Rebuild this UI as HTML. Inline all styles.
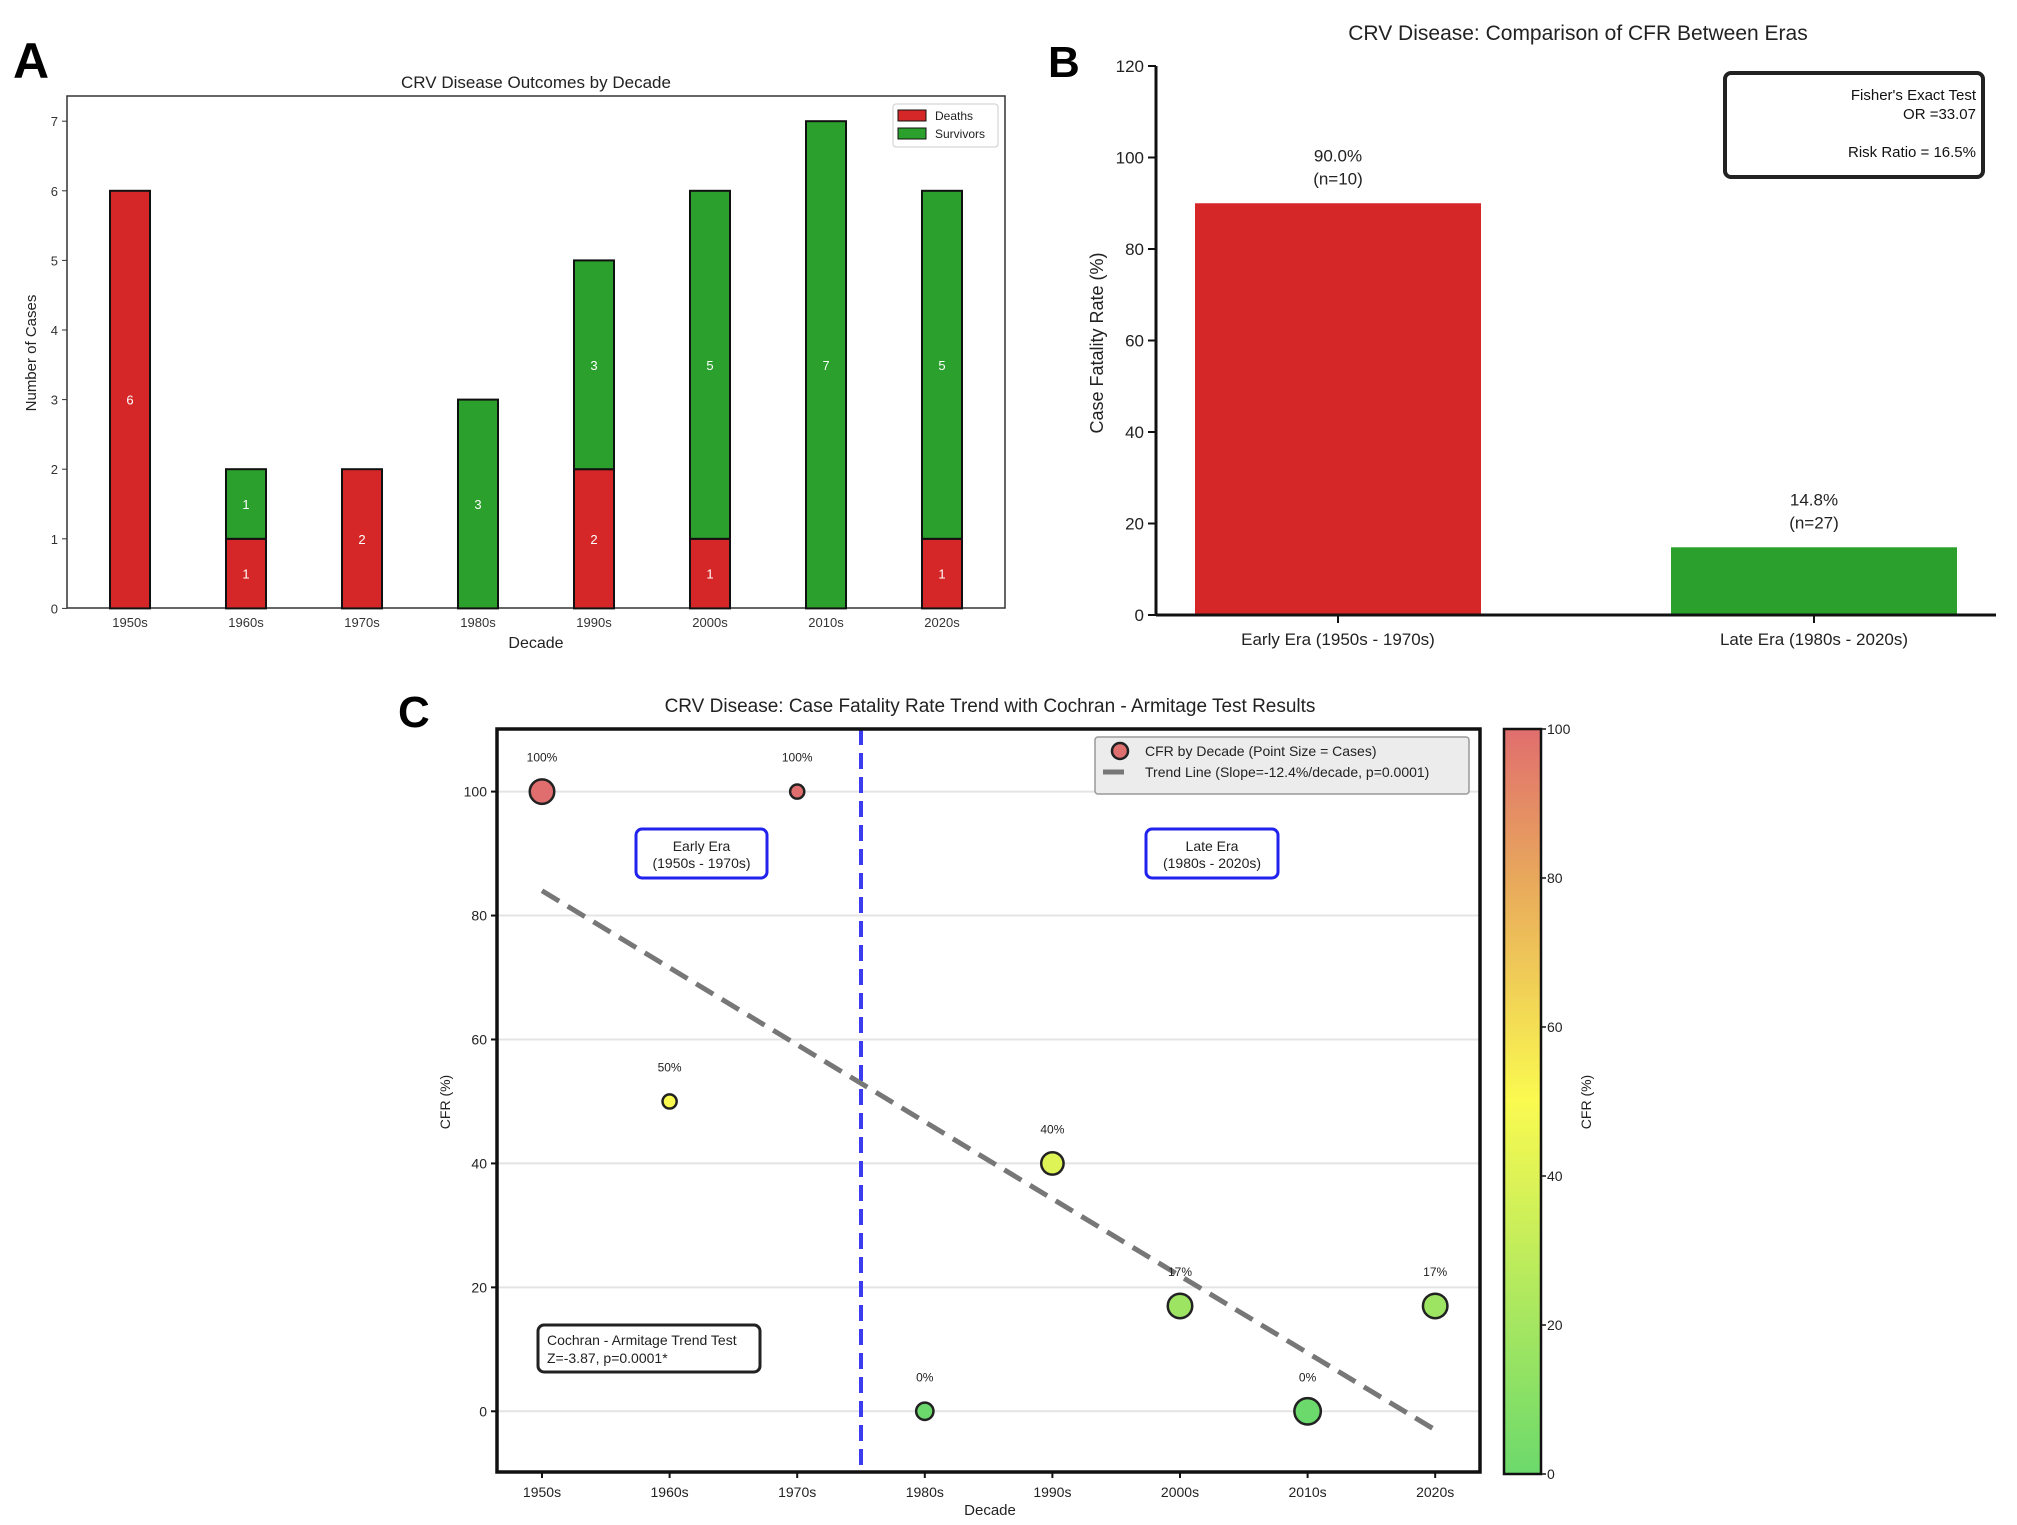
<!DOCTYPE html>
<html><head><meta charset="utf-8"><style>
html,body{margin:0;padding:0;background:#fff;}
svg{display:block;font-family:"Liberation Sans",sans-serif;}
</style></head><body>
<svg id="fig" width="2017" height="1525" viewBox="0 0 2017 1525" xmlns="http://www.w3.org/2000/svg">
<g id="pa"></g>
<g id="pb"></g>
<g id="pc"></g>
</svg>
<script>
// Panel A data
const decades = ["1950s","1960s","1970s","1980s","1990s","2000s","2010s","2020s"];
const deaths = [6,1,2,0,2,1,0,1];
const survivors = [0,1,0,3,3,5,7,5];
const aTicks = [0,1,2,3,4,5,6,7];
// Panel B data
const eras = ["Early Era (1950s - 1970s)","Late Era (1980s - 2020s)"];
const eraCFR = [90.0,14.8];
const eraN = [10,27];
const bTicks = [0,20,40,60,80,100,120];
// Panel C data
const cfr = [100,50,100,0,40,17,0,17];
const cases = [6,2,2,3,5,6,7,6];
const trendStart = 84;
const trendEnd = -3;
const cTicks = [0,20,40,60,80,100];
const cbTicks = [0,20,40,60,80,100];

const NS="http://www.w3.org/2000/svg";
function mk(parent,tag,attrs,text){const e=document.createElementNS(NS,tag);for(const k in attrs)e.setAttribute(k,attrs[k]);if(text!==undefined)e.textContent=text;parent.appendChild(e);return e;}

// ---------- Panel A ----------
(function(){
const g=document.getElementById('pa');
const L=67,R=1005,T=96,B=608;
const ya=v=>608.4-v*69.6;
const xa=i=>130+i*116;
let t=mk(g,'text',{x:13,y:78,'font-size':50,'font-weight':'bold'},'A');


t=mk(g,'text',{x:536,y:88,'font-size':17,'text-anchor':'middle',fill:'#222'},'CRV Disease Outcomes by Decade');


let r=mk(g,'rect',{x:L,y:T,width:R-L,height:B-T,fill:'none',stroke:'#333','stroke-width':1.5});


aTicks.forEach(v=>{
  const l=mk(g,'line',{x1:L-5,x2:L,y1:ya(v),y2:ya(v),stroke:'#333'});
  
  
  const tt=mk(g,'text',{x:L-9,y:ya(v)+5,'font-size':13,'text-anchor':'end',fill:'#333'},String(v));
  
  
});
decades.forEach((d,i)=>{
  const x=xa(i),w=40;
  if(deaths[i]>0){
    const b=mk(g,'rect',{x:x-w/2,y:ya(deaths[i]),width:w,height:ya(0)-ya(deaths[i]),fill:'#d62728',stroke:'#111','stroke-width':2});
    
    
    const lb=mk(g,'text',{x:x,y:ya(deaths[i]/2)+5,'font-size':13,'text-anchor':'middle',fill:'#fff'},String(deaths[i]));
    
    
  }
  if(survivors[i]>0){
    const b=mk(g,'rect',{x:x-w/2,y:ya(deaths[i]+survivors[i]),width:w,height:ya(deaths[i])-ya(deaths[i]+survivors[i]),fill:'#2ca02c',stroke:'#111','stroke-width':2});
    
    
    const lb=mk(g,'text',{x:x,y:ya(deaths[i]+survivors[i]/2)+5,'font-size':13,'text-anchor':'middle',fill:'#fff'},String(survivors[i]));
    
    
  }
  const tt=mk(g,'text',{x:x,y:627,'font-size':13,'text-anchor':'middle',fill:'#333'},d);
  
  
});
t=mk(g,'text',{x:536,y:648,'font-size':16,'text-anchor':'middle',fill:'#222'},'Decade');


t=mk(g,'text',{x:0,y:0,'font-size':15,'text-anchor':'middle',fill:'#222',transform:'translate(36,353) rotate(-90)'},'Number of Cases');


const lg=mk(g,'g',{});


mk(lg,'rect',{x:893,y:104,width:105,height:43,fill:'#fff',stroke:'#ccc',rx:3});
let e=mk(lg,'rect',{x:898,y:110,width:28,height:11,fill:'#d62728',stroke:'#111'});


mk(lg,'text',{x:935,y:120,'font-size':12,fill:'#222'},'Deaths');
e=mk(lg,'rect',{x:898,y:128,width:28,height:11,fill:'#2ca02c',stroke:'#111'});


mk(lg,'text',{x:935,y:138,'font-size':12,fill:'#222'},'Survivors');
})();

// ---------- Panel B ----------
(function(){
const g=document.getElementById('pb');
const L=1156,B=615;
const yb=v=>615-v*(549/120);
const xc=[1338,1814];
let t=mk(g,'text',{x:1048,y:77,'font-size':44,'font-weight':'bold'},'B');


t=mk(g,'text',{x:1578,y:40,'font-size':21,'text-anchor':'middle',fill:'#222'},'CRV Disease: Comparison of CFR Between Eras');


eras.forEach((e,i)=>{
  const b=mk(g,'rect',{x:xc[i]-143,y:yb(eraCFR[i]),width:286,height:yb(0)-yb(eraCFR[i]),fill:i===0?'#d62728':'#2ca02c'});
  
  
  let a=mk(g,'text',{x:xc[i],y:yb(eraCFR[i])-42,'font-size':17,'text-anchor':'middle',fill:'#222'},eraCFR[i].toFixed(1)+'%');
  
  
  a=mk(g,'text',{x:xc[i],y:yb(eraCFR[i])-19,'font-size':17,'text-anchor':'middle',fill:'#222'},'(n='+eraN[i]+')');
  
  
  const tk=mk(g,'line',{x1:xc[i],x2:xc[i],y1:B,y2:B+8,stroke:'#111','stroke-width':2});
  
  
  a=mk(g,'text',{x:xc[i],y:645,'font-size':17,'text-anchor':'middle',fill:'#222'},e);
  
  
});
let ax=mk(g,'line',{x1:L,x2:L,y1:yb(120),y2:B,stroke:'#111','stroke-width':3});


ax=mk(g,'line',{x1:L,x2:1996,y1:B,y2:B,stroke:'#111','stroke-width':3});


bTicks.forEach(v=>{
  const l=mk(g,'line',{x1:L-8,x2:L,y1:yb(v),y2:yb(v),stroke:'#111','stroke-width':2});
  
  
  const tt=mk(g,'text',{x:L-12,y:yb(v)+6,'font-size':17,'text-anchor':'end',fill:'#222'},String(v));
  
  
});
t=mk(g,'text',{x:0,y:0,'font-size':18,'text-anchor':'middle',fill:'#222',transform:'translate(1103,343) rotate(-90)'},'Case Fatality Rate (%)');


const bx=mk(g,'g',{});


mk(bx,'rect',{x:1725,y:73,width:258,height:104,fill:'#fff',stroke:'#222','stroke-width':4,rx:6});
mk(bx,'text',{x:1976,y:100,'font-size':15,'text-anchor':'end',fill:'#111'},"Fisher's Exact Test");
mk(bx,'text',{x:1976,y:119,'font-size':15,'text-anchor':'end',fill:'#111'},'OR =33.07');
mk(bx,'text',{x:1976,y:157,'font-size':15,'text-anchor':'end',fill:'#111'},'Risk Ratio = 16.5%');
})();

// ---------- Panel C ----------
(function(){
const g=document.getElementById('pc');
const L=497,R=1480,T=729,B=1472;
const yc=v=>1411.3-v*6.197;
const xc=i=>542+i*127.6;
function col(v){
  const stops=[[0,[108,217,108]],[50,[250,250,80]],[80,[232,168,92]],[100,[224,110,110]]];
  for(let k=1;k<stops.length;k++){if(v<=stops[k][0]){const a=stops[k-1],b=stops[k];const f=(v-a[0])/(b[0]-a[0]);return 'rgb('+a[1].map((c,j)=>Math.round(c+(b[1][j]-c)*f)).join(',')+')';}}
  return 'rgb(224,110,110)';
}
let t=mk(g,'text',{x:398,y:727,'font-size':44,'font-weight':'bold'},'C');


t=mk(g,'text',{x:990,y:712,'font-size':19,'text-anchor':'middle',fill:'#222'},'CRV Disease: Case Fatality Rate Trend with Cochran - Armitage Test Results');


cTicks.forEach(v=>{
  const gl=mk(g,'line',{x1:L,x2:R,y1:yc(v),y2:yc(v),stroke:'#e4e4e4','stroke-width':2});
  
  
  const l=mk(g,'line',{x1:L-6,x2:L,y1:yc(v),y2:yc(v),stroke:'#111','stroke-width':2});
  
  
  const tt=mk(g,'text',{x:L-10,y:yc(v)+5,'font-size':14,'text-anchor':'end',fill:'#222'},String(v));
  
  
});
let vl=mk(g,'line',{x1:(xc(2)+xc(3))/2,x2:(xc(2)+xc(3))/2,y1:T,y2:B,stroke:'#3b3bf0','stroke-width':4,'stroke-dasharray':'16,8'});


let tl=mk(g,'line',{x1:xc(0),y1:yc(trendStart),x2:xc(7),y2:yc(trendEnd),stroke:'#777','stroke-width':5,'stroke-dasharray':'20,10'});


decades.forEach((d,i)=>{
  const c=mk(g,'circle',{cx:xc(i),cy:yc(cfr[i]),r:5*Math.sqrt(cases[i]),fill:col(cfr[i]),stroke:'#222','stroke-width':2.5});
  
  
  const lb=mk(g,'text',{x:xc(i),y:yc(cfr[i])-30,'font-size':12,'text-anchor':'middle',fill:'#222'},cfr[i]+'%');
  
  
  const tk=mk(g,'line',{x1:xc(i),x2:xc(i),y1:B,y2:B+6,stroke:'#111','stroke-width':2});
  
  
  const tt=mk(g,'text',{x:xc(i),y:1497,'font-size':14,'text-anchor':'middle',fill:'#222'},d);
  
  
});
let fr=mk(g,'rect',{x:L,y:T,width:R-L,height:B-T,fill:'none',stroke:'#111','stroke-width':3.5});


t=mk(g,'text',{x:990,y:1515,'font-size':15,'text-anchor':'middle',fill:'#222'},'Decade');


t=mk(g,'text',{x:0,y:0,'font-size':14,'text-anchor':'middle',fill:'#222',transform:'translate(450,1102) rotate(-90)'},'CFR (%)');


// era boxes
[[636,767,'Early Era','(1950s - 1970s)','early-era-box'],[1146,1278,'Late Era','(1980s - 2020s)','late-era-box']].forEach(a=>{
  const bg=mk(g,'g',{});
  
  
  mk(bg,'rect',{x:a[0],y:829,width:a[1]-a[0],height:49,fill:'#fff',stroke:'#2222ee','stroke-width':3,rx:6});
  mk(bg,'text',{x:(a[0]+a[1])/2,y:851,'font-size':14,'text-anchor':'middle',fill:'#222'},a[2]);
  mk(bg,'text',{x:(a[0]+a[1])/2,y:868,'font-size':14,'text-anchor':'middle',fill:'#222'},a[3]);
});
const cb=mk(g,'g',{});


mk(cb,'rect',{x:538,y:1325,width:222,height:47,fill:'#fff',stroke:'#222','stroke-width':3,rx:6});
mk(cb,'text',{x:547,y:1345,'font-size':14,fill:'#222'},'Cochran - Armitage Trend Test');
mk(cb,'text',{x:547,y:1363,'font-size':14,fill:'#222'},'Z=-3.87, p=0.0001*');
// legend
const lg=mk(g,'g',{});


mk(lg,'rect',{x:1095,y:737,width:374,height:57,fill:'#ececec',stroke:'#999','stroke-width':1.5,rx:3});
let e=mk(lg,'circle',{cx:1120,cy:751,r:8,fill:'#e07070',stroke:'#222','stroke-width':2.5});


mk(lg,'text',{x:1145,y:756,'font-size':14,fill:'#222'},'CFR by Decade (Point Size = Cases)');
e=mk(lg,'line',{x1:1103,x2:1124,y1:772,y2:772,stroke:'#777','stroke-width':5});


mk(lg,'text',{x:1145,y:777,'font-size':14,fill:'#222'},'Trend Line (Slope=-12.4%/decade, p=0.0001)');
// colorbar
const defs=mk(document.getElementById('fig'),'defs',{});
const gr=mk(defs,'linearGradient',{id:'cbg',x1:0,y1:1,x2:0,y2:0});
[0,10,20,30,40,50,60,70,80,90,100].forEach(v=>mk(gr,'stop',{offset:v+'%','stop-color':col(v)}));
const cbT=729,cbB=1474,cbX=1504,cbW=37;
const ycb=v=>cbB-v*(cbB-cbT)/100;
let cr=mk(g,'rect',{x:cbX,y:cbT,width:cbW,height:cbB-cbT,fill:'url(#cbg)',stroke:'#111','stroke-width':2.5});


cbTicks.forEach(v=>{
  mk(g,'line',{x1:cbX+cbW,x2:cbX+cbW+5,y1:ycb(v),y2:ycb(v),stroke:'#111','stroke-width':1.5});
  const tt=mk(g,'text',{x:cbX+cbW+6,y:ycb(v)+5,'font-size':14,fill:'#222'},String(v));
  
  
});
t=mk(g,'text',{x:0,y:0,'font-size':14,'text-anchor':'middle',fill:'#222',transform:'translate(1591,1102) rotate(-90)'},'CFR (%)');


})();
</script>
</body></html>
